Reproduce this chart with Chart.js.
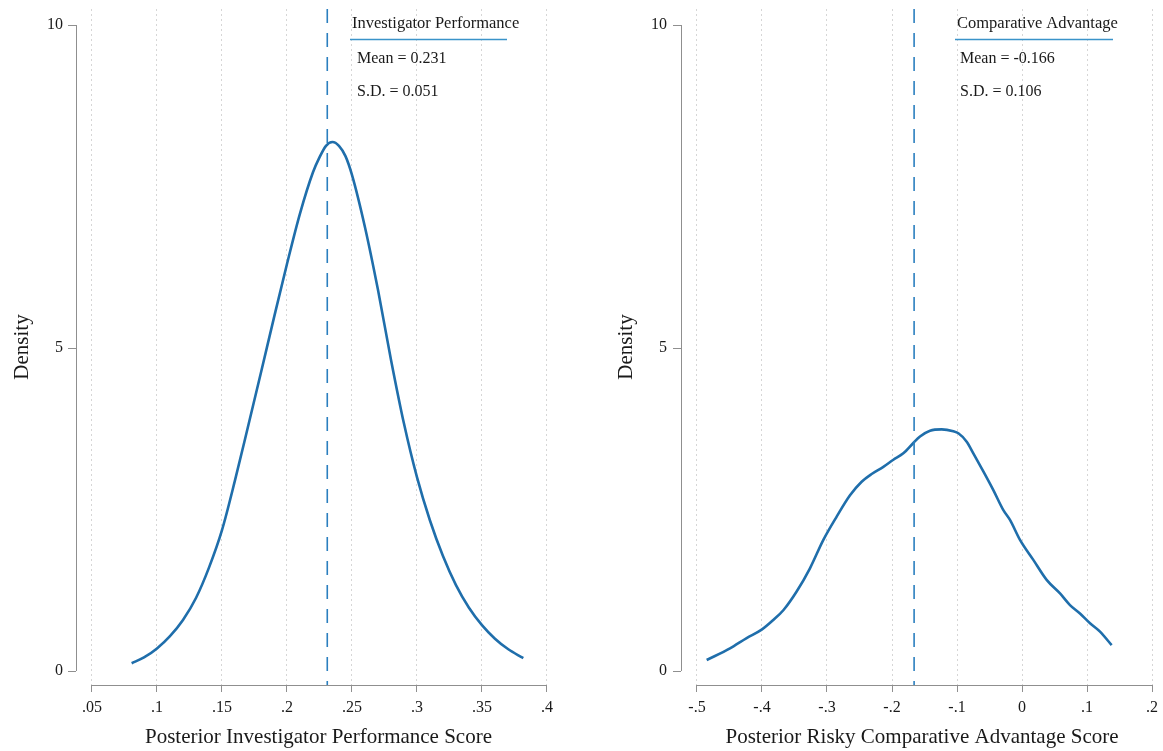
<!DOCTYPE html>
<html><head><meta charset="utf-8">
<script src="https://cdn.jsdelivr.net/npm/chart.js@4.4.1/dist/chart.umd.min.js"></script>
<style>
html,body{margin:0;padding:0;background:#fff;width:1163px;height:751px;overflow:hidden}
canvas{position:absolute;top:0}
#c1{left:0}
#c2{left:580px}
</style></head><body>
<canvas id="c1" width="580" height="751"></canvas>
<canvas id="c2" width="583" height="751"></canvas>
<script>
// ---------- data ----------
const leftX = [0.0805,0.09,0.10,0.11,0.12,0.13,0.14,0.15,0.16,0.17,0.18,0.19,0.20,0.21,0.22,0.225,0.23,0.235,0.24,0.245,0.25,0.26,0.27,0.28,0.29,0.30,0.31,0.32,0.33,0.34,0.35,0.36,0.37,0.38,0.3818];
const leftY = [0.12,0.21,0.35,0.54,0.79,1.13,1.60,2.18,2.95,3.78,4.62,5.47,6.30,7.08,7.72,7.95,8.13,8.19,8.13,7.97,7.68,6.87,5.90,4.82,3.83,3.00,2.33,1.78,1.33,0.98,0.71,0.50,0.34,0.22,0.20];
const leftMean = 0.231;
const leftSD = 0.051;
const leftTicks = [0.05,0.1,0.15,0.2,0.25,0.3,0.35,0.4];
const leftTickLabels = ['.05','.1','.15','.2','.25','.3','.35','.4'];

const rightX = [-0.4851,-0.4492,-0.4236,-0.4005,-0.3826,-0.3672,-0.3467,-0.3262,-0.3056,-0.2851,-0.2646,-0.2467,-0.2313,-0.2133,-0.1979,-0.1826,-0.1672,-0.1569,-0.1415,-0.1236,-0.1056,-0.0979,-0.0851,-0.0749,-0.0595,-0.0441,-0.0287,-0.0185,-0.0031,0.0174,0.0379,0.0585,0.0738,0.0892,0.1046,0.1200,0.1379];
const rightY = [0.17,0.35,0.51,0.64,0.79,0.94,1.23,1.59,2.03,2.39,2.72,2.93,3.05,3.16,3.27,3.37,3.53,3.63,3.72,3.74,3.71,3.68,3.55,3.37,3.09,2.80,2.49,2.34,2.03,1.72,1.41,1.20,1.02,0.89,0.74,0.61,0.40];
const rightMean = -0.166;
const rightSD = 0.106;
const rightTicks = [-0.5,-0.4,-0.3,-0.2,-0.1,0,0.1,0.2];
const rightTickLabels = ['-.5','-.4','-.3','-.2','-.1','0','.1','.2'];

const yTicks = [0,5,10];
const yTickLabels = ['0','5','10'];
const yTitle = 'Density';
const leftXTitle = 'Posterior Investigator Performance Score';
const rightXTitle = 'Posterior Risky Comparative Advantage Score';
const leftLegendTitle = 'Investigator Performance';
const rightLegendTitle = 'Comparative Advantage';

// ---------- styles ----------
const SERIF = '"Liberation Serif", "Times New Roman", serif';
const CURVE = '#1f6eab';
const DASH = '#2b7fbf';
const AXIS = '#8f8f8f';
const TEXT = '#1a1a1a';

const axisLines = {
  id: 'axisLines',
  beforeDatasetsDraw(chart, args, o) {
    const {ctx, chartArea, scales} = chart;
    const x = scales.x, y = scales.y;
    ctx.save();
    ctx.strokeStyle = AXIS; ctx.lineWidth = 1; ctx.setLineDash([]);
    const lx = Math.floor(chartArea.left) + 0.5;
    ctx.beginPath();
    ctx.moveTo(lx, y.getPixelForValue(yTicks[yTicks.length-1]));
    ctx.lineTo(lx, y.getPixelForValue(yTicks[0]));
    ctx.stroke();
    const by = Math.floor(chartArea.bottom) + 0.5;
    ctx.beginPath();
    ctx.moveTo(x.getPixelForValue(o.ticks[0]), by);
    ctx.lineTo(x.getPixelForValue(o.ticks[o.ticks.length-1]), by);
    ctx.stroke();
    ctx.restore();
  }
};

const legendBox = {
  id: 'legendBox',
  afterDraw(chart, args, o) {
    const ctx = chart.ctx;
    ctx.save();
    ctx.fillStyle = TEXT;
    ctx.textBaseline = 'alphabetic';
    ctx.textAlign = 'left';
    ctx.font = '16.5px ' + SERIF;
    ctx.fillText(o.title, o.tx, 28);
    ctx.strokeStyle = '#3a93c9'; ctx.lineWidth = 1.5;
    ctx.beginPath(); ctx.moveTo(o.lx1, 39.5); ctx.lineTo(o.lx2, 39.5); ctx.stroke();
    ctx.font = '16px ' + SERIF;
    ctx.fillText('Mean = ' + o.mean.toFixed(3), o.mx, 63);
    ctx.fillText('S.D. = ' + o.sd.toFixed(3), o.mx, 96);
    ctx.restore();
  }
};

function noPad(s) { s.paddingTop = 0; s.paddingBottom = 0; s.paddingLeft = 0; s.paddingRight = 0; }

function makeChart(id, cfg) {
  const pts = cfg.xs.map((v, i) => ({x: v, y: cfg.ys[i]}));
  new Chart(document.getElementById(id), {
    type: 'line',
    data: {
      datasets: [
        {data: [{x: cfg.mean, y: cfg.yMax}, {x: cfg.mean, y: cfg.yMin}], borderColor: DASH, borderWidth: 1.6, borderDash: [14, 10], pointRadius: 0, fill: false},
        {data: pts, borderColor: CURVE, borderWidth: 2.6, pointRadius: 0, fill: false, cubicInterpolationMode: 'monotone'}
      ]
    },
    plugins: [axisLines, legendBox],
    options: {
      responsive: false,
      devicePixelRatio: 1,
      animation: false,
      layout: {padding: {top: 9, right: cfg.padRight, bottom: 0, left: 0}},
      plugins: {
        legend: {display: false},
        tooltip: {enabled: false},
        axisLines: {ticks: cfg.ticks},
        legendBox: cfg.legend
      },
      scales: {
        x: {
          type: 'linear', position: 'bottom', min: cfg.xMin, max: cfg.xMax,
          afterBuildTicks: s => { s.ticks = cfg.ticks.map(v => ({value: v})); },
          afterFit: s => { s.height = 66; noPad(s); },
          ticks: {
            autoSkip: false, maxRotation: 0, padding: 6, color: TEXT,
            font: {family: SERIF, size: 16},
            callback: (v, i) => cfg.tickLabels[i]
          },
          grid: {color: '#d6d6d6', lineWidth: 1, drawOnChartArea: true, drawTicks: true,
                 tickLength: 7, tickColor: AXIS, tickWidth: 1, tickBorderDash: []},
          border: {display: false, dash: [2, 3]},
          title: {display: true, text: cfg.xTitle, color: TEXT,
                  font: {family: SERIF, size: 21, lineHeight: 1.2}, padding: {top: 0, bottom: 1}}
        },
        y: {
          type: 'linear', position: 'left', min: cfg.yMin, max: cfg.yMax,
          afterBuildTicks: s => { s.ticks = yTicks.map(v => ({value: v})); },
          afterFit: s => { s.width = cfg.yWidth; noPad(s); },
          ticks: {
            autoSkip: false, padding: cfg.yTickPad, color: TEXT,
            font: {family: SERIF, size: 16},
            callback: (v, i) => yTickLabels[i]
          },
          grid: {drawOnChartArea: false, drawTicks: true, tickLength: 8, tickColor: AXIS, tickWidth: 1, tickBorderDash: []},
          border: {display: false},
          title: {display: true, text: yTitle, color: TEXT,
                  font: {family: SERIF, size: 21, lineHeight: 1.2}, padding: {top: cfg.yTitlePad, bottom: 0}}
        }
      }
    }
  });
}

makeChart('c1', {
  xs: leftX, ys: leftY, mean: leftMean,
  ticks: leftTicks, tickLabels: leftTickLabels, xTitle: leftXTitle,
  xMin: 0.0377, xMax: 0.4108, yMin: -0.2167, yMax: 10.248,
  yWidth: 76, yTickPad: 5, yTitlePad: 10, padRight: 19,
  legend: {title: leftLegendTitle, tx: 352, lx1: 350, lx2: 507, mx: 357, mean: leftMean, sd: leftSD}
});

makeChart('c2', {
  xs: rightX, ys: rightY, mean: rightMean,
  ticks: rightTicks, tickLabels: rightTickLabels, xTitle: rightXTitle,
  xMin: -0.5246, xMax: 0.2169, yMin: -0.2167, yMax: 10.248,
  yWidth: 101, yTickPad: 6, yTitlePad: 34, padRight: 0,
  legend: {title: rightLegendTitle, tx: 377, lx1: 375, lx2: 533, mx: 380, mean: rightMean, sd: rightSD}
});
</script>
</body></html>
